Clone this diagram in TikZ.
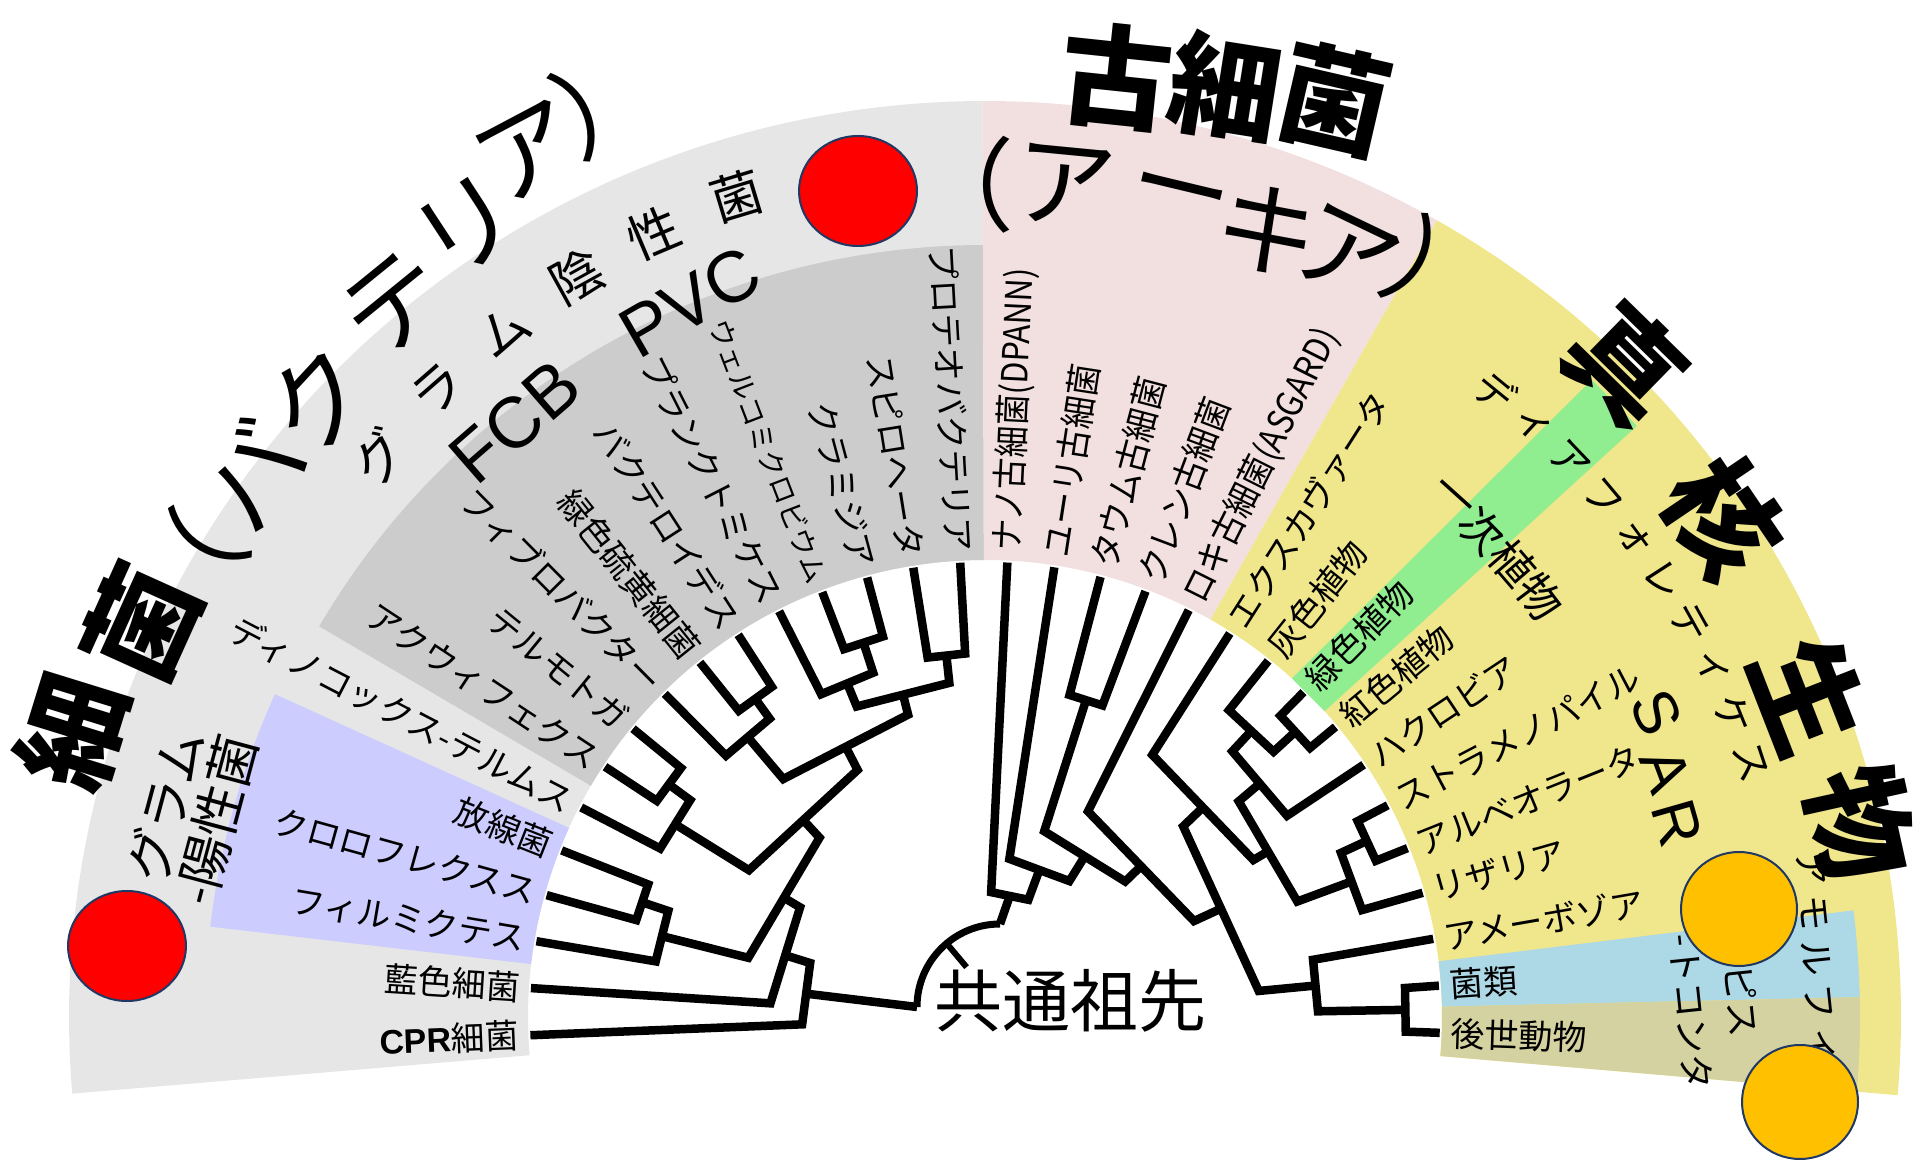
\documentclass[tikz,border=0pt]{standalone}
\usepackage{fontspec}
\usepackage{graphicx}
\newfontfamily\jpf{Noto Sans CJK JP}
\newfontfamily\lsans{Liberation Sans}
\usetikzlibrary{calc}
\definecolor{bglight}{RGB}{230,230,230}
\definecolor{bgdark}{RGB}{204,204,204}
\definecolor{bgblue}{RGB}{204,204,255}
\definecolor{bgpink}{RGB}{242,224,224}
\definecolor{bgyellow}{RGB}{240,230,140}
\definecolor{bggreen}{RGB}{144,238,144}
\definecolor{bgsky}{RGB}{173,216,230}
\definecolor{bgtan}{RGB}{212,210,160}
\definecolor{navy}{RGB}{32,56,100}
\definecolor{orng}{RGB}{255,192,0}
\newcommand{\fsz}[1]{\fontsize{#1pt}{#1pt}\selectfont}
\newcommand{\bandsec}[5]{\fill[#1] ($(C)+(#2:#4)$) arc[start angle=#2,end angle=#3,radius=#4] -- ($(C)+(#3:#5)$) arc[start angle=#3,end angle=#2,radius=#5] -- cycle;}
\newcommand{\mkclade}[4]{%
  \coordinate (#1a) at ($(C)!#4pt!(#2)$);
  \coordinate (#1b) at ($(C)!#4pt!(#3)$);
  \draw[tree] (#2) -- (#1a) -- (#1b) -- (#3);
  \coordinate (#1) at ($(#1a)!0.5!(#1b)$);}
\newcommand{\leafl}[3][]{\node[lab,anchor=east,rotate={182.3-5.945*(#2-1)-180},#1] (lab#2) at ($(C)+({182.3-5.945*(#2-1)}:466)$) {#3};}
\newcommand{\leafr}[3][]{\node[lab,anchor=west,rotate={182.3-5.945*(#2-1)},#1] (lab#2) at ($(C)+({182.3-5.945*(#2-1)}:466)$) {#3};}
\newcommand{\arcch}[5]{\node[#1,rotate={#2-90}] (#5) at ($(C)+(#2:#3)$) {#4};}
\newcommand{\tch}[6]{\node[#1,rotate=#4] (#6) at (#2,#3) {#5};}
\begin{document}
\begin{tikzpicture}[x=1pt,y=1pt,
  tree/.style={line width=8.5pt,line join=miter,line cap=butt},
  lab/.style={inner sep=0pt,font=\jpf\fsz{34}},
  grp/.style={inner sep=0pt,font=\jpf\fsz{52}},
  dia/.style={inner sep=0pt,font=\jpf\fsz{40}},
  amo/.style={inner sep=0pt,font=\jpf\fsz{36}},
  ichi/.style={inner sep=0pt,font=\jpf\fsz{44}},
  ttl/.style={inner sep=0pt,font=\jpf\fsz{102}},
  ttlb/.style={inner sep=0pt,font=\jpf\bfseries\fsz{112}},
  latin/.style={inner sep=0pt,font=\lsans\fsz{72}},
  blob/.style={draw=navy,line width=2pt}]
\useasboundingbox (0,0) rectangle (1931,1163);
\coordinate (C) at (985,146);
% ---------- background bands ----------
\bandsec{bglight}{90.15}{184.8}{457}{916}
\bandsec{bgdark}{90.15}{149.6}{457}{772}
\bandsec{bgblue}{155.55}{173.35}{457}{780}
\bandsec{bgpink}{60.43}{90.15}{457}{916}
\bandsec{bgyellow}{-4.9}{60.43}{457}{916}
\bandsec{bgsky}{1.3}{7.0}{457}{875}
\bandsec{bgtan}{-4.9}{1.3}{457}{875}
\fill[bggreen] ($(C)+(47.8:457)$) -- ($(C)+(46.4:880)$) -- ($(C)+(42.2:880)$) -- ($(C)+(42.0:457)$) -- cycle;
% ---------- tree ----------
\foreach \i in {1,...,32} \coordinate (L\i) at ($(C)+({182.3-5.945*(\i-1)}:455)$);
% bacteria
\mkclade{ba}{L4}{L5}{362}
\mkclade{bb}{L3}{ba}{334}
\mkclade{bc}{L7}{L8}{393}
\mkclade{bd}{L6}{bc}{366}
\mkclade{be}{L10}{L11}{393}
\mkclade{bf}{L9}{be}{368}
\mkclade{bg}{L13}{L14}{394}
\mkclade{bh}{L12}{bg}{362}
\mkclade{bi}{L15}{L16}{364}
\mkclade{bj}{bh}{bi}{336}
\mkclade{bk}{bf}{bj}{312}
\mkclade{bl}{bd}{bk}{278}
\mkclade{bm}{bb}{bl}{244}
\mkclade{bn}{L2}{bm}{215}
\mkclade{bo}{L1}{bn}{183}
% archaea + eukaryotes
\mkclade{et}{L19}{L20}{333}
\mkclade{pa}{L24}{L25}{422}
\mkclade{pb}{L23}{pa}{392}
\mkclade{pc}{pb}{L26}{363}
\mkclade{sa}{L27}{L28}{421}
\mkclade{sb}{sa}{L29}{392}
\mkclade{da}{pc}{sb}{333}
\mkclade{db}{L22}{da}{311}
\mkclade{oa}{L31}{L32}{421}
\mkclade{ob}{L30}{oa}{333}
\mkclade{eu}{db}{ob}{275}
\mkclade{rc}{L21}{eu}{230}
\mkclade{rb}{et}{rc}{195}
\mkclade{ra}{L18}{rb}{160}
\mkclade{rz}{L17}{ra}{125}
% root
\coordinate (A) at (1000,156);
\coordinate (rootL) at ($(A)+(180:83)$);
\coordinate (rootT) at ($(A)+(90:83)$);
\coordinate (tk1) at ($(A)+(130:83)$);
\coordinate (tk2) at ($(A)+(130:52)$);
\draw[tree,line width=7pt] (rootL) arc[start angle=180,end angle=90,radius=83];
\draw[tree,line width=6pt] (tk1) -- (tk2);
\draw[tree] (bo) -- (rootL);
\draw[tree] (rz) -- (rootT);
% ---------- leaf labels ----------
\leafl{1}{{\lsans\bfseries CPR}細菌}
\leafl{2}{藍色細菌}
\leafl{3}{フィルミクテス}
\leafl{4}{クロロフレクスス}
\leafl{5}{放線菌}
\leafl{6}{ディノコックス-テルムス}
\leafl{7}{アクウィフェクス}
\leafl{8}{テルモトガ}
\leafl{9}{フィブロバクター}
\leafl{10}{緑色硫黄細菌}
\leafl{11}{バクテロイデス}
\leafl{12}{プランクトミケス}
\leafl[font=\jpf\fsz{28}]{13}{ウェルコミクロビウム}
\leafl{14}{クラミジア}
\leafl{15}{スピロヘータ}
\leafl{16}{プロテオバクテリア}
\leafr[font=\jpf\fsz{36}]{17}{\scalebox{0.88}[1]{ナノ古細菌(DPANN)}}
\leafr[font=\jpf\fsz{36}]{18}{\scalebox{0.9}[1]{ユーリ古細菌}}
\leafr[font=\jpf\fsz{36}]{19}{\scalebox{0.9}[1]{タウム古細菌}}
\leafr[font=\jpf\fsz{36}]{20}{\scalebox{0.9}[1]{クレン古細菌}}
\leafr[font=\jpf\fsz{36}]{21}{\scalebox{0.88}[1]{ロキ古細菌(ASGARD)}}
\leafr{22}{エクスカヴァータ}
\leafr{23}{灰色植物}
\leafr{24}{緑色植物}
\leafr{25}{紅色植物}
\leafr{26}{ハクロビア}
\leafr{27}{ストラメノパイル}
\leafr{28}{アルベオラータ}
\leafr{29}{リザリア}
\leafr{30}{アメーボゾア}
\leafr{31}{菌類}
\leafr{32}{後世動物}
% ---------- group labels ----------
\arcch{grp}{137.2}{825}{グ}{gn1}
\arcch{grp}{131.1}{832}{ラ}{gn2}
\arcch{grp}{125.0}{838}{ム}{gn3}
\arcch{grp}{118.9}{845}{陰}{gn4}
\arcch{grp}{112.9}{851}{性}{gn5}
\arcch{grp}{106.8}{858}{菌}{gn6}
\node[latin,rotate=41] (fcb) at (515,741) {FCB};
\node[latin,rotate=30] (pvc) at (690,861) {PVC};
\node[inner sep=0pt,font=\jpf\fsz{52},align=center,rotate=75] (gpos) at (191,350) {\fontsize{52pt}{80pt}\selectfont グラム\\-陽性菌};
\arcch{dia}{50.8}{807}{デ}{di1}
\arcch{dia}{47.2}{807}{ィ}{di2}
\arcch{dia}{43.6}{807}{ア}{di3}
\arcch{dia}{40.0}{807}{フ}{di4}
\arcch{dia}{36.4}{807}{ォ}{di5}
\arcch{dia}{32.8}{807}{レ}{di6}
\arcch{dia}{29.2}{807}{テ}{di7}
\arcch{dia}{25.6}{807}{ィ}{di8}
\arcch{dia}{22.0}{807}{ケ}{di9}
\arcch{dia}{18.4}{807}{ス}{di10}
\arcch{ichi}{48.0}{696}{一}{ic1}
\arcch{ichi}{44.4}{696}{次}{ic2}
\arcch{ichi}{40.7}{696}{植}{ic3}
\arcch{ichi}{37.1}{696}{物}{ic4}
\node[latin,font=\lsans\fsz{62},rotate=-65.5] (sarS) at (1656,451) {S};
\node[latin,font=\lsans\fsz{62},rotate=-69.5] (sarA) at (1666,393) {A};
\node[latin,font=\lsans\fsz{62},rotate=-74] (sarR) at (1677,340) {R};
\node[amo,rotate=-84] (am1) at (1811,295) {ア};
\node[amo,rotate=-84] (am2) at (1814,250) {モ};
\node[amo,rotate=-84] (am3) at (1816,205) {ル};
\node[amo,rotate=-84] (am4) at (1819,161) {フ};
\node[amo,rotate=-84] (am5) at (1822,118) {ィ};
\node[amo,rotate=-84] (op1) at (1740,180) {オピス};
\node[amo,rotate=-84] (op2) at (1691,151) {-トコンタ};
% ---------- titles ----------
\tch{ttlb}{72}{432}{72.8}{細}{tb1}
\tch{ttlb}{142}{540}{65.7}{菌}{tb2}
\tch{ttl}{190}{595}{59.6}{（}{tb3}
\tch{ttl}{252}{689}{53.5}{バ}{tb4}
\tch{ttl}{318}{764}{47.2}{ク}{tb5}
\tch{ttl}{395}{859}{39.1}{テ}{tb6}
\tch{ttl}{467}{936}{33.3}{リ}{tb7}
\tch{ttl}{528}{1010}{27.9}{ア}{tb8}
\tch{ttl}{607}{1062}{23.9}{）}{tb9}
\tch{ttlb}{1117}{1086}{-6}{古}{ta1}
\tch{ttlb}{1225}{1076}{-9}{細}{ta2}
\tch{ttlb}{1335}{1063}{-13}{菌}{ta3}
\tch{ttl}{963}{978}{0}{（}{ta4}
\tch{ttl}{1065}{978}{-5.5}{ア}{ta5}
\tch{ttl}{1178}{960}{-13.5}{ー}{ta6}
\tch{ttl}{1268}{933}{-20}{キ}{ta7}
\tch{ttl}{1346}{908}{-25.6}{ア}{ta8}
\tch{ttl}{1440}{888}{-29.1}{）}{ta9}
\tch{ttlb}{1626}{800}{-44.4}{真}{te1}
\tch{ttlb}{1724}{646}{-55.9}{核}{te2}
\tch{ttlb}{1810}{467}{-68.7}{生}{te3}
\tch{ttlb}{1860}{340}{-77.5}{物}{te4}
\node[inner sep=0pt,font=\jpf\fsz{68}] (anc) at (1070,162) {共通祖先};
% ---------- markers ----------
\filldraw[blob,fill=red] (127,217) ellipse[x radius=59,y radius=55];
\filldraw[blob,fill=red] (858,972) ellipse[x radius=59,y radius=55];
\filldraw[blob,fill=orng] (1739,254) ellipse[x radius=58,y radius=57];
\filldraw[blob,fill=orng] (1800,61) ellipse[x radius=58,y radius=57];
\end{tikzpicture}
\end{document}
